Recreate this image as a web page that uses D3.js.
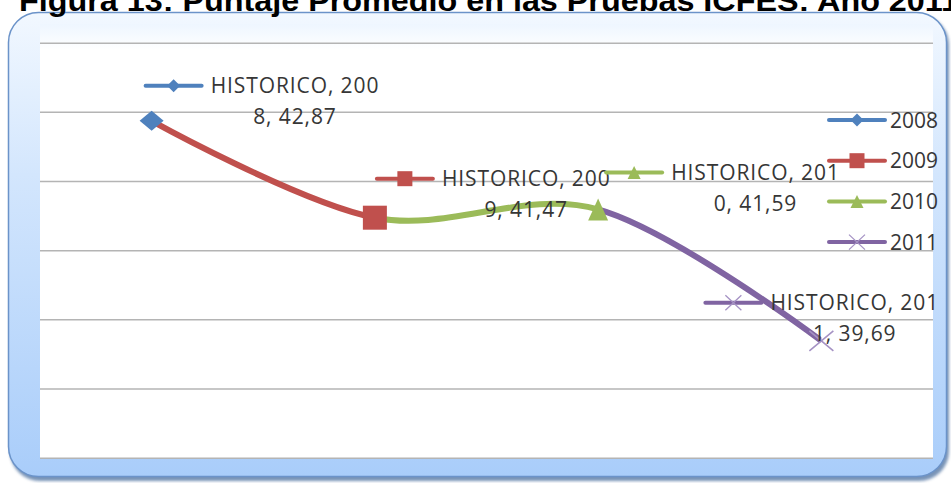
<!DOCTYPE html>
<html>
<head>
<meta charset="utf-8">
<script src="https://cdn.jsdelivr.net/npm/d3@7"></script>
<style>
  body { margin: 0; background: #fff; }
  svg { display: block; }
  .lbl { font-family: "Open Sans", sans-serif; font-size: 21px; fill: #363636; }
  .title { font-family: "Liberation Sans", Arial, sans-serif; font-weight: bold; font-size: 30px; fill: #000; }
</style>
</head>
<body>
<svg id="chart"></svg>
<script>
// data
const seriesName = 'HISTORICO';
const years = ['2008', '2009', '2010', '2011'];
const values = [42.87, 41.47, 41.59, 39.69];
const yTicks = [38, 39, 40, 41, 42, 43, 44];
const titleText = 'Figura 13: Puntaje Promedio en las Pruebas ICFES: Año 2011';

const colors = ['#4f81bd', '#c0504d', '#9bbb59', '#8064a2'];
const shapes = ['diamond', 'square', 'triangle', 'cross'];

// where each data label sits relative to its point (key start x, first line centre y)
const labelOffsets = [[-6, -35], [2, -39], [8, -37], [-116, -38]];

const W = 951, H = 483;
const plot = {left: 40, right: 933, top: 42.7, bottom: 457.7};

const svg = d3.select('#chart')
  .attr('width', W)
  .attr('height', H);

const defs = svg.append('defs');
const grad = defs.append('linearGradient')
  .attr('id', 'frameGrad')
  .attr('x1', 0).attr('y1', 0).attr('x2', 0).attr('y2', 1);
grad.append('stop').attr('offset', '0%').attr('stop-color', '#f2f8ff');
grad.append('stop').attr('offset', '35%').attr('stop-color', '#d3e6fd');
grad.append('stop').attr('offset', '100%').attr('stop-color', '#a9cdfa');

const innerGrad = defs.append('linearGradient')
  .attr('id', 'innerGrad')
  .attr('x1', 0).attr('y1', 0).attr('x2', 0).attr('y2', 1);
innerGrad.append('stop').attr('offset', '0%').attr('stop-color', '#eef6ff');
innerGrad.append('stop').attr('offset', '6%').attr('stop-color', '#ffffff');
innerGrad.append('stop').attr('offset', '100%').attr('stop-color', '#ffffff');

const blur = defs.append('filter').attr('id', 'shadow')
  .attr('x', '-5%').attr('y', '-5%').attr('width', '110%').attr('height', '110%');
blur.append('feGaussianBlur').attr('stdDeviation', 1.5);

// frame
svg.append('rect')
  .attr('x', 10).attr('y', 15).attr('width', 939).attr('height', 466)
  .attr('rx', 30)
  .attr('fill', '#4b6f9f')
  .attr('opacity', 0.75)
  .attr('filter', 'url(#shadow)');

svg.append('rect')
  .attr('x', 8.5).attr('y', 12.5).attr('width', 938).attr('height', 464)
  .attr('rx', 30)
  .attr('fill', 'url(#frameGrad)')
  .attr('stroke', '#6b93c9')
  .attr('stroke-width', 1.5);

svg.append('rect')
  .attr('x', plot.left).attr('y', 24)
  .attr('width', plot.right - plot.left).attr('height', plot.bottom - 24 + 1)
  .attr('fill', 'url(#innerGrad)');

// title (cropped at the top, as in the source)
svg.append('text')
  .attr('class', 'title')
  .attr('x', 19)
  .attr('y', 11)
  .attr('textLength', 940)
  .attr('lengthAdjust', 'spacingAndGlyphs')
  .text(titleText);

// scales
const xScale = d3.scalePoint()
  .domain(years)
  .range([plot.left, plot.right])
  .padding(0.5);

const yScale = d3.scaleLinear()
  .domain([d3.min(yTicks), d3.max(yTicks)])
  .range([plot.bottom, plot.top]);

// gridlines
svg.append('g')
  .attr('transform', `translate(${plot.left},0)`)
  .call(d3.axisLeft(yScale).tickValues(yTicks).tickSize(-(plot.right - plot.left)).tickFormat(''))
  .call(g => g.select('.domain').remove())
  .call(g => g.selectAll('.tick line').attr('stroke', '#b4b4b4').attr('stroke-width', 1.5));

// markers
function marker(sel, shape, color, w, h, big) {
  if (shape === 'diamond') {
    sel.append('path')
      .attr('d', `M${-w / 2},0L0,${-h / 2}L${w / 2},0L0,${h / 2}Z`)
      .attr('fill', color);
  } else if (shape === 'square') {
    sel.append('rect')
      .attr('x', -w / 2).attr('y', -h / 2).attr('width', w).attr('height', h)
      .attr('fill', color);
  } else if (shape === 'triangle') {
    sel.append('path')
      .attr('d', `M0,${-h / 2}L${w / 2},${h / 2}L${-w / 2},${h / 2}Z`)
      .attr('fill', color);
  } else {
    sel.append('path')
      .attr('d', `M${-w / 2},${-h / 2}L${w / 2},${h / 2}M${w / 2},${-h / 2}L${-w / 2},${h / 2}`)
      .attr('stroke', '#a592c4')
      .attr('stroke-width', big ? 1.6 : 1.3)
      .attr('fill', 'none');
  }
}

// line: one smooth curve, each segment coloured by its end point
const points = years.map((y, i) => ({year: y, value: values[i]}));
const line = d3.line()
  .x(d => xScale(d.year))
  .y(d => yScale(d.value))
  .curve(d3.curveCardinal.tension(0));

for (let i = 1; i < years.length; i++) {
  const x0 = xScale(years[i - 1]), x1 = xScale(years[i]);
  defs.append('clipPath').attr('id', 'seg' + i)
    .append('rect')
    .attr('x', x0).attr('y', 0).attr('width', x1 - x0).attr('height', H);
  svg.append('path')
    .datum(points)
    .attr('d', line)
    .attr('fill', 'none')
    .attr('stroke', colors[i])
    .attr('stroke-width', 6)
    .attr('clip-path', `url(#seg${i})`);
}

const bigSizes = {diamond: [24, 20], square: [24, 24], triangle: [20, 22], cross: [24, 20]};
const smallSizes = {diamond: [13, 13], square: [15, 15], triangle: [13, 13], cross: [16, 15]};

points.forEach((d, i) => {
  const g = svg.append('g')
    .attr('transform', `translate(${xScale(d.year)},${yScale(d.value)})`);
  const s = bigSizes[shapes[i]];
  marker(g, shapes[i], colors[i], s[0], s[1], true);
});

function legendKey(sel, i) {
  sel.append('line')
    .attr('x1', 0).attr('x2', 56)
    .attr('stroke', colors[i])
    .attr('stroke-width', 4)
    .attr('stroke-linecap', 'round');
  const m = sel.append('g').attr('transform', 'translate(28,0)');
  const s = smallSizes[shapes[i]];
  marker(m, shapes[i], colors[i], s[0], s[1], false);
}

// data labels
const fmt = v => d3.format('.2f')(v).replace('.', ',');
points.forEach((d, i) => {
  const full = `${seriesName}, ${d.year}, ${fmt(d.value)}`;
  const first = full.slice(0, 14), second = full.slice(14).trim();
  const px = xScale(d.year), py = yScale(d.value);
  const g = svg.append('g')
    .attr('transform', `translate(${px + labelOffsets[i][0]},${py + labelOffsets[i][1]})`);
  legendKey(g, i);
  const t1 = g.append('text')
    .attr('class', 'lbl')
    .attr('x', 65)
    .attr('y', 7.5)
    .attr('letter-spacing', 0.9)
    .text(first);
  const w1 = t1.node().getComputedTextLength();
  g.append('text')
    .attr('class', 'lbl')
    .attr('x', 65 + w1 / 2)
    .attr('y', 38.5)
    .attr('text-anchor', 'middle')
    .attr('letter-spacing', 0.9)
    .text(second);
});

// legend
const legend = svg.append('g').attr('transform', 'translate(829,120)');
years.forEach((y, i) => {
  const row = legend.append('g').attr('transform', `translate(0,${i * 40.7})`);
  legendKey(row, i);
  row.append('text')
    .attr('class', 'lbl')
    .attr('x', 61)
    .attr('y', 7.5)
    .text(y);
});
</script>
</body>
</html>
